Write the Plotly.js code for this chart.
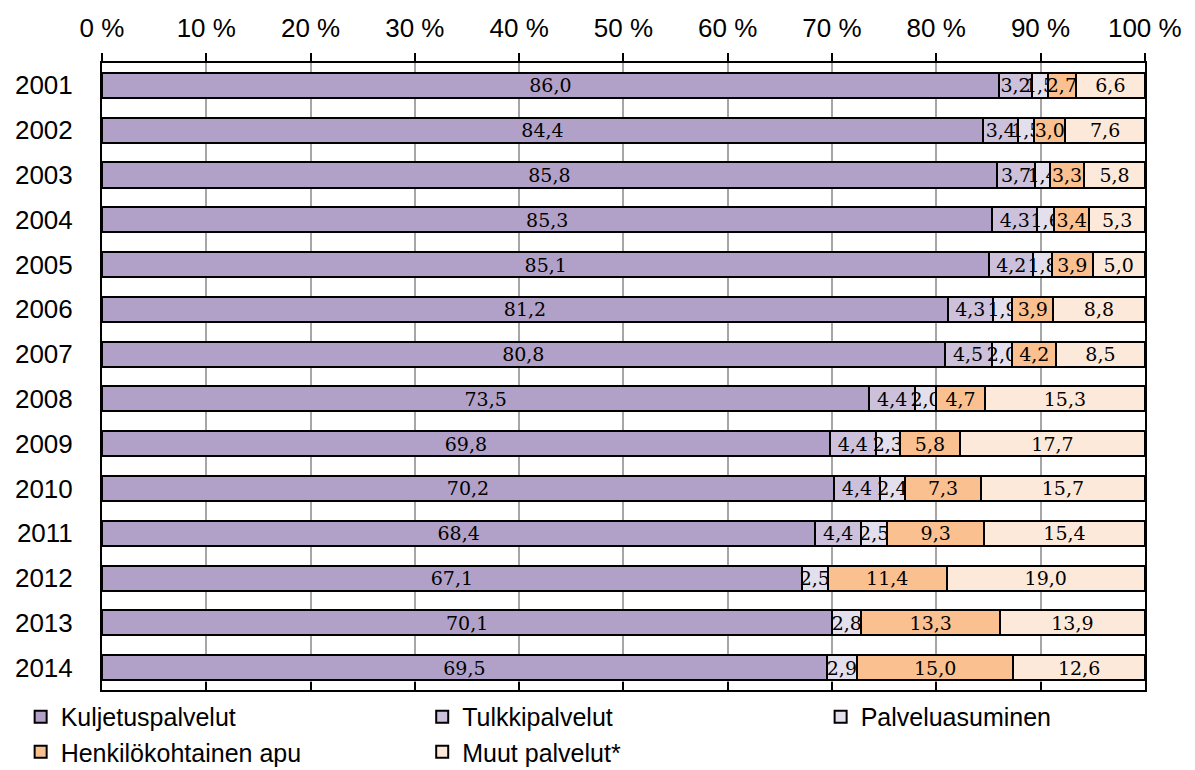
<!DOCTYPE html>
<html>
<head>
<meta charset="utf-8">
<script src="https://cdn.plot.ly/plotly-3.0.1.min.js"></script>
<style>html,body{margin:0;padding:0;background:#fff;}#chart{width:1195px;height:770px;}</style>
</head>
<body>
<div id="chart"></div>
<script>
const years = ['2001','2002','2003','2004','2005','2006','2007','2008','2009','2010','2011','2012','2013','2014'];
const kuljetus = [86.0, 84.4, 85.8, 85.3, 85.1, 81.2, 80.8, 73.5, 69.8, 70.2, 68.4, 67.1, 70.1, 69.5];
const tulkki = [3.2, 3.4, 3.7, 4.3, 4.2, 4.3, 4.5, 4.4, 4.4, 4.4, 4.4, null, null, null];
const palvelu = [1.5, 1.5, 1.4, 1.6, 1.8, 1.9, 2.0, 2.0, 2.3, 2.4, 2.5, 2.5, 2.8, 2.9];
const henk = [2.7, 3.0, 3.3, 3.4, 3.9, 3.9, 4.2, 4.7, 5.8, 7.3, 9.3, 11.4, 13.3, 15.0];
const muut = [6.6, 7.6, 5.8, 5.3, 5.0, 8.8, 8.5, 15.3, 17.7, 15.7, 15.4, 19.0, 13.9, 12.6];

const seriesNames = ['Kuljetuspalvelut', 'Tulkkipalvelut', 'Palveluasuminen', 'Henkilökohtainen apu', 'Muut palvelut*'];
const seriesValues = [kuljetus, tulkki, palvelu, henk, muut];
const seriesColors = ['#b1a0c7', '#ccc0da', '#e4dfec', '#fac090', '#fde9d9'];
const legendIds = ['legend', 'legend2', 'legend3', 'legend4', 'legend5'];

const fmt = v => (v === null ? '' : v.toFixed(1).replace('.', ','));

const traces = seriesValues.map((vals, i) => ({
  type: 'bar',
  orientation: 'h',
  name: seriesNames[i],
  y: years,
  x: vals,
  text: vals.map(fmt),
  textposition: 'inside',
  insidetextanchor: 'middle',
  textangle: 0,
  constraintext: 'none',
  cliponaxis: false,
  textfont: {family: 'DejaVu Serif, serif', size: 19, color: '#000'},
  marker: {color: seriesColors[i], line: {color: '#000', width: 2}},
  legend: legendIds[i],
  hoverinfo: 'name+text'
}));

traces.push({type: 'scatter', x: [], y: [], xaxis: 'x2', showlegend: false, hoverinfo: 'skip'});

const legendFont = {size: 25, family: 'Liberation Sans, Arial, sans-serif', color: '#000'};
function mkLegend(x, y) {
  return {
    orientation: 'h', x: x, xanchor: 'left', y: y, yanchor: 'middle',
    font: legendFont, itemwidth: 30, bgcolor: 'rgba(0,0,0,0)', borderwidth: 0
  };
}

const layout = {
  width: 1195,
  height: 770,
  margin: {l: 102, r: 50, t: 63, b: 80, autoexpand: false},
  paper_bgcolor: '#fff',
  plot_bgcolor: '#fff',
  barmode: 'stack',
  barnorm: 'percent',
  bargap: 0.44,
  showlegend: true,
  font: {family: 'Liberation Sans, Arial, sans-serif', color: '#000'},
  xaxis: {
    side: 'top',
    range: [0, 100.02],
    tickvals: [0, 10, 20, 30, 40, 50, 60, 70, 80, 90, 100],
    ticktext: ['0 %', '10 %', '20 %', '30 %', '40 %', '50 %', '60 %', '70 %', '80 %', '90 %', '100 %'],
    showgrid: true,
    gridcolor: '#a6a6a6',
    gridwidth: 1.5,
    zeroline: false,
    showline: true,
    linecolor: '#000',
    linewidth: 2,
    ticks: 'outside',
    ticklen: 8,
    tickwidth: 2,
    tickcolor: '#000',
    tickfont: {size: 26, family: 'Liberation Sans, Arial, sans-serif', color: '#000'},
    ticklabelstandoff: 6,
    automargin: false,
    fixedrange: true
  },
  xaxis2: {
    overlaying: 'x',
    side: 'bottom',
    anchor: 'y',
    range: [0, 100.02],
    tickvals: [0, 10, 20, 30, 40, 50, 60, 70, 80, 90, 100],
    showgrid: false,
    zeroline: false,
    showline: true,
    linecolor: '#000',
    linewidth: 2,
    ticks: 'inside',
    ticklen: 8,
    tickwidth: 2,
    tickcolor: '#000',
    showticklabels: false,
    automargin: false,
    fixedrange: true
  },
  yaxis: {
    type: 'category',
    autorange: 'reversed',
    showline: true,
    mirror: true,
    linecolor: '#000',
    linewidth: 2,
    ticks: '',
    showgrid: false,
    tickfont: {size: 26, family: 'Liberation Sans, Arial, sans-serif', color: '#000'},
    ticklabelstandoff: 22,
    automargin: false,
    fixedrange: true
  },
  legend: mkLegend(-0.078, -0.043),
  legend2: mkLegend(0.307, -0.043),
  legend3: mkLegend(0.689, -0.043),
  legend4: mkLegend(-0.078, -0.099),
  legend5: mkLegend(0.307, -0.099)
};

Plotly.newPlot('chart', traces, layout, {displayModeBar: false});
</script>
</body>
</html>
